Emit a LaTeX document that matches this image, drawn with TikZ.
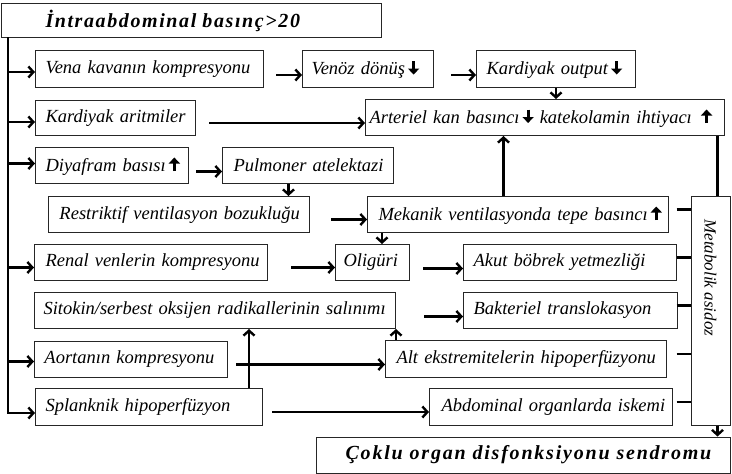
\documentclass[tikz,border=0pt]{standalone}
\usepackage{fontspec}
\usepackage{graphicx}
\setmainfont{Liberation Serif}
\newfontfamily\spacedfont[LetterSpace=9]{Liberation Serif}
\newfontfamily\titlefont[LetterSpace=8]{Liberation Serif}
\usetikzlibrary{arrows.meta,calc}
\newcommand\dnar{\,\tikz[baseline=0pt,x=1pt,y=1pt]{\draw[line width=3pt,-{Triangle[length=6pt,width=11pt]}] (0,13.5)--(0,0);}}
\newcommand\upar{\,\tikz[baseline=0pt,x=1pt,y=1pt]{\draw[line width=3pt,-{Triangle[length=6pt,width=11pt]}] (0,0)--(0,13.5);}}
\newcommand\bx[7]{%
  \pgfmathsetmacro\tw{#3-#1-2*#5}%
  \pgfmathsetmacro\hh{#4-#2}%
  \node[box, anchor=north west, inner xsep=#5pt, text width=\tw pt, minimum height=\hh pt] (#6) at (#1,#2) {\mbox{#7}};}
\newcommand\br[2]{\draw[arr] ($(trtop |- #1.west)+(0,#2)$) -- ($(#1.west)+(0,#2)$);}
\newcommand\stub[1]{\draw[ln] ($(meta.west |- #1.east)+(-14,-5)$) -- ($(meta.west |- #1.east)+(0,-5)$);}
\begin{document}
\begin{tikzpicture}[x=1pt,y=-1pt,
  box/.style={draw=black!85, line width=1pt, fill=white, inner ysep=0pt, align=left,
    font=\itshape\fontsize{18.5}{21}\selectfont},
  arr/.style={line width=2.4pt, -{Straight Barb[length=5pt,width=11pt]}},
  ln/.style={line width=2.4pt},
  bigtext/.style={font=\spacedfont\bfseries\itshape\fontsize{20}{23}\selectfont}]
\useasboundingbox (0,0) rectangle (732,474);
% title
\bx{1}{3}{381}{37}{44}{title}{\bfseries\titlefont\fontsize{20}{23}\selectfont İntraabdominal basınç>20}
% boxes
\bx{35}{50}{263}{87}{10}{vena}{Vena kavanın kompresyonu}
\bx{302}{50}{433}{87}{9}{venoz}{Venöz dönüş\dnar}
\bx{476}{50}{635}{87}{10}{kout}{Kardiyak output\dnar}
\bx{35}{100}{195}{135}{10}{karit}{Kardiyak aritmiler}
\bx{365}{99}{724}{135}{4}{arter}{Arteriel kan basıncı\dnar{} katekolamin ihtiyacı \upar}
\bx{35}{147}{188}{183}{10}{diyaf}{Diyafram basısı\upar}
\bx{222}{147}{393}{183}{11}{pulm}{Pulmoner atelektazi}
\bx{48}{196}{309}{232}{11}{restr}{Restriktif ventilasyon bozukluğu}
\bx{367}{196}{668}{232}{11}{mekan}{Mekanik ventilasyonda tepe basıncı\upar}
\bx{34}{244}{267}{280}{11}{renal}{Renal venlerin kompresyonu}
\bx{335}{244}{409}{280}{8}{olig}{Oligüri}
\bx{463}{244}{676}{280}{10}{akut}{Akut böbrek yetmezliği}
\bx{34}{292}{395}{328}{9}{sitok}{Sitokin/serbest oksijen radikallerinin salınımı}
\bx{463}{292}{677}{328}{10}{bakt}{Bakteriel translokasyon}
\bx{34}{341}{227}{377}{10}{aort}{Aortanın kompresyonu}
\bx{385}{340}{666}{377}{11}{alt}{Alt ekstremitelerin hipoperfüzyonu}
\bx{35}{388}{262}{425}{10}{splan}{Splanknik hipoperfüzyon}
\bx{429}{388}{672}{425}{12}{abdo}{Abdominal organlarda iskemi}
\node[box, minimum width=39pt, minimum height=229pt, inner xsep=0pt, font=\itshape\fontsize{17}{19}\selectfont]
  (meta) at (710.5,310.5) {\rotatebox{-90}{\makebox[182pt][l]{Metabolik asidoz}}};
\node[box, bigtext, align=center, minimum width=414pt, minimum height=36pt, inner xsep=0pt]
  (coklu) at (523,455) {\hspace*{11pt}Çoklu organ disfonksiyonu sendromu};
% trunk
\coordinate (trtop) at (8,37);
\draw[arr] (trtop) |- ($(splan.west)+(0,6)$);
\br{vena}{3}
\br{karit}{4}
\br{diyaf}{-2}
\br{renal}{5}
\br{aort}{2}
% horizontal connectors
\draw[arr] ($(vena.east)+(12,6)$) -- ($(venoz.west)+(0,6)$);
\draw[arr] ($(venoz.east)+(17,6)$) -- ($(kout.west)+(0,6)$);
\draw[arr] ($(karit.east)+(13,5)$) -- ($(karit.east -| arter.west)+(0,5)$);
\draw[arr] ($(diyaf.east)+(7,6)$) -- ($(pulm.west)+(0,6)$);
\draw[arr] ($(restr.east)+(21,5)$) -- ($(mekan.west)+(0,5)$);
\draw[arr] ($(renal.east)+(23,5)$) -- ($(olig.west)+(0,5)$);
\draw[arr] ($(olig.east)+(13,6)$) -- ($(akut.west)+(0,6)$);
\draw[arr] ($(sitok.east)+(28,6)$) -- ($(bakt.west)+(0,6)$);
\draw[arr] ($(aort.east)+(8,5)$) -- ($(aort.east -| alt.west)+(0,5)$);
\draw[arr] ($(splan.east)+(9,5)$) -- ($(abdo.west)+(0,5)$);
% vertical connectors
\draw[arr] (kout.south) -- (kout.south |- arter.north);
\draw[arr] ($(pulm.south)+(-19.5,0)$) -- ($(pulm.south |- restr.north)+(-19.5,0)$);
\draw[arr] ($(mekan.south west)+(15,0)$) -- ($(mekan.south west |- olig.north)+(15,0)$);
\draw[arr] ($(mekan.north)+(-14.5,0)$) -- ($(mekan.north |- arter.south)+(-14.5,0)$);
\draw[arr] ($(splan.north west)+(214,0)$) -- ($(splan.north west |- sitok.south)+(214,0)$);
\draw[arr] ($(alt.north west)+(11,0)$) -- ($(alt.north west |- sitok.south)+(11,0)$);
\draw[ln] ($(meta.north east |- arter.south)+(-13,0)$) -- ($(meta.north east)+(-13,0)$);
\draw[arr] ($(meta.south east)+(-13,0)$) -- ($(meta.south east |- coklu.north)+(-13,0)$);
% stubs to metabolik asidoz
\stub{mekan}
\stub{akut}
\stub{bakt}
\stub{alt}
\stub{abdo}
\end{tikzpicture}
\end{document}
